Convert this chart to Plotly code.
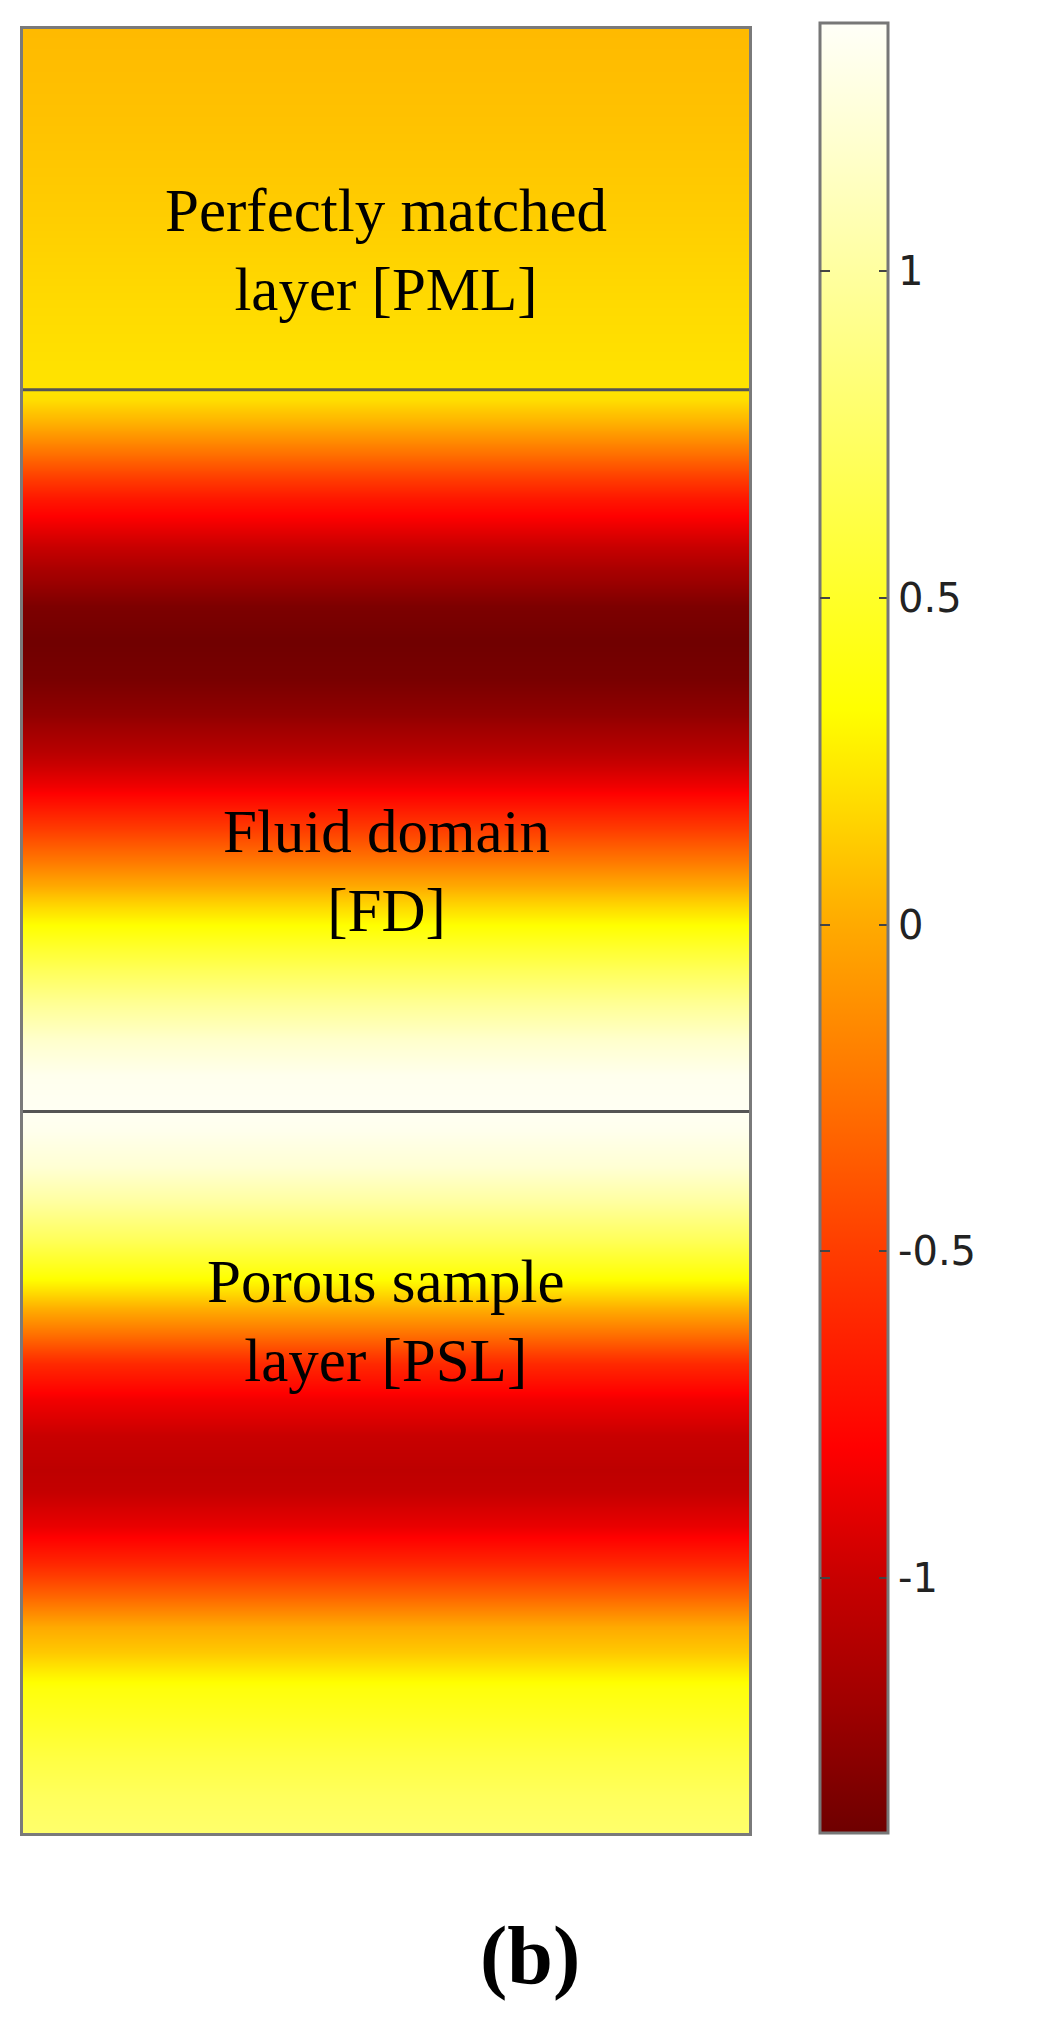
import plotly.graph_objects as go

# Vertical position along the tube (0 = bottom of PSL, 100 = top of PML)
positions = [0, 2, 4, 6, 8, 10, 11.4, 13, 15, 17, 19, 20.2, 22, 24, 26, 28, 29, 31, 33, 35, 37, 39, 40,
             42, 44, 46, 48, 50, 52, 54, 56, 58, 60, 62, 64, 66, 68, 70, 72, 74, 76, 78, 79.5, 80,
             85, 90, 95, 100]
# Field value at each position
field = [0.78, 0.72, 0.62, 0.50, 0.38, 0.12, 0.0, -0.30, -0.62, -0.88, -1.02, -1.05, -1.0, -0.85, -0.60,
         -0.20, 0.0, 0.38, 0.72, 1.0, 1.22, 1.33, 1.36,
         1.33, 1.18, 0.95, 0.68, 0.38, 0.08, -0.25, -0.55, -0.85, -1.08, -1.25, -1.35, -1.38, -1.33,
         -1.15, -0.92, -0.68, -0.35, 0.0, 0.2, 0.22,
         0.18, 0.13, 0.09, 0.06]

boundaries = [40, 80]
region_labels = ["Perfectly matched<br>layer [PML]", "Fluid domain<br>[FD]", "Porous sample<br>layer [PSL]"]
region_label_pos = [87.75, 53.3, 28.4]

tick_vals = [-1, -0.5, 0, 0.5, 1]
tick_text = ["-1", "-0.5", "0", "0.5", "1"]
z_min, z_max = -1.39, 1.38

colorscale = [
    [0.0, "#6e0000"], [0.072, "#a00000"], [0.141, "#c80000"], [0.213, "#ff0000"],
    [0.321, "#ff3c00"], [0.404, "#ff7000"], [0.502, "#ffaa00"], [0.570, "#ffdc00"],
    [0.621, "#ffff00"], [0.718, "#ffff40"], [0.863, "#ffffa0"], [0.935, "#ffffd0"],
    [1.0, "#fffff8"],
]

# The page body has an 8px margin; work in page pixels and convert.
OFF = 8
W, H = 1048 - 2 * OFF, 2019 - 2 * OFF


def fx(px):
    return (px - OFF) / W


def fy(py):
    return 1 - (py - OFF) / H


cb_common = dict(
    xpad=0, ypad=0,
    y=fy(1833), yanchor="bottom", len=(1833 - 23) / H, lenmode="fraction",
    tickvals=tick_vals, ticktext=tick_text, tickwidth=2, tickcolor="#444",
)

fig = go.Figure()
fig.add_trace(go.Heatmap(
    x=[0, 1], y=positions, z=[[v, v] for v in field],
    zmin=z_min, zmax=z_max, colorscale=colorscale, zsmooth="best",
    hoverinfo="skip",
    colorbar=dict(
        x=fx(820), xanchor="left",
        thickness=68, thicknessmode="pixels",
        outlinewidth=3, outlinecolor="#777777",
        ticks="inside", ticklen=10,
        tickfont=dict(family="DejaVu Sans", size=40, color="#222"),
        **cb_common,
    ),
))
# transparent twin trace: only supplies the tick marks on the left side of the colour bar
fig.add_trace(go.Heatmap(
    x=[0, 1], y=positions, z=[[v, v] for v in field],
    zmin=z_min, zmax=z_max, zsmooth="best",
    colorscale=[[0, "rgba(0,0,0,0)"], [1, "rgba(0,0,0,0)"]],
    hoverinfo="skip",
    colorbar=dict(
        x=fx(819), xanchor="left",
        thickness=1, thicknessmode="pixels",
        outlinewidth=0, ticks="outside", ticklen=10, showticklabels=False,
        **cb_common,
    ),
))

for b in boundaries:
    fig.add_shape(type="line", xref="x domain", yref="y", x0=0, x1=1, y0=b, y1=b,
                  line=dict(color="#555555", width=3))

for txt, yp in zip(region_labels, region_label_pos):
    fig.add_annotation(x=0.5, xref="x domain", y=yp, yref="y", text=txt, showarrow=False,
                       font=dict(family="Liberation Serif", size=61, color="black"),
                       align="center", xanchor="center", yanchor="middle")

fig.add_annotation(x=fx(530), xref="paper", y=fy(1955), yref="paper", text="<b>(b)</b>",
                   showarrow=False, xanchor="center", yanchor="middle",
                   font=dict(family="Liberation Serif", size=82, color="black"))

fig.update_xaxes(range=[-0.5, 1.5], domain=[fx(23), fx(749)], showticklabels=False, showgrid=False,
                 zeroline=False, showline=True, mirror=True, linecolor="#7a7a7a", linewidth=3, ticks="")
fig.update_yaxes(range=[0, 100], domain=[fy(1833), fy(29)], showticklabels=False,
                 showgrid=False, zeroline=False, showline=True, mirror=True, linecolor="#7a7a7a",
                 linewidth=3, ticks="")

fig.update_layout(width=W, height=H, margin=dict(l=0, r=0, t=0, b=0),
                  paper_bgcolor="white", plot_bgcolor="white", showlegend=False)

fig.write_html("out.html")
